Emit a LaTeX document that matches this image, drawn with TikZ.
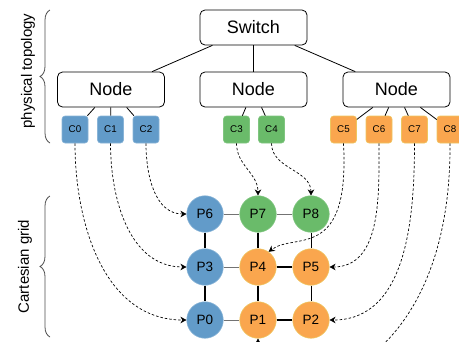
\documentclass[tikz,border=0pt]{standalone}
\usepackage{fontspec}
\setmainfont{Liberation Sans}
\usetikzlibrary{arrows.meta,decorations.pathreplacing}
\definecolor{cblue}{RGB}{98,155,201}
\definecolor{cgreen}{RGB}{106,187,106}
\definecolor{corange}{RGB}{250,166,78}
\definecolor{corangeline}{RGB}{238,198,96}
\begin{document}
\begin{tikzpicture}[x=1pt,y=-1pt,
  box/.style={draw,rounded corners=5pt,minimum width=107pt,minimum height=35pt,
    line width=0.8pt,font=\fontsize{18}{18}\selectfont},
  chip/.style={rounded corners=3pt,minimum width=26pt,minimum height=27pt,inner sep=0pt,
    line width=0.6pt,font=\fontsize{9.8}{9.8}\selectfont},
  proc/.style={circle,minimum size=36.5pt,inner sep=0pt,line width=0.6pt,
    font=\fontsize{13.5}{13.5}\selectfont},
  blueish/.style={fill=cblue,draw=cblue!75!white},
  greenish/.style={fill=cgreen,draw=cgreen!85!white},
  orangeish/.style={fill=corange,draw=corangeline},
  link/.style={line width=0.8pt},
  soft/.style={draw=black!55,line width=0.9pt},
  hard/.style={line width=1.6pt},
  mid/.style={line width=1pt},
  map/.style={dash pattern=on 2.5pt off 2pt,line width=0.7pt,-{Stealth[length=6pt,width=6.5pt]}},
  brace/.style={decorate,decoration={brace,amplitude=10pt},draw=black!70,line width=0.8pt},
  side/.style={rotate=90,font=\fontsize{15}{15}\selectfont}]
  \useasboundingbox (0,0) rectangle (459,341);
  \clip (0,0) rectangle (459,341);

  \node[box] (sw) at (253.5,27.5) {Switch};
  \node[box] (nodeL) at (111,89.5) {Node};
  \node[box] (nodeM) at (253.5,89.5) {Node};
  \node[box] (nodeR) at (396.5,89.5) {Node};
  \foreach \n in {nodeL,nodeM,nodeR}
    \draw[link] (sw) -- (\n);

  \foreach \name/\x/\col in {C0/75/blueish,C1/110.5/blueish,C2/146/blueish,
      C3/236.5/greenish,C4/271.5/greenish,
      C5/343.5/orangeish,C6/379/orangeish,C7/414.5/orangeish,C8/450/orangeish}
    \node[chip,\col] (\name) at (\x,129.5) {\name};
  \foreach \c in {C0,C1,C2}
    \draw[link] (nodeL) -- (\c);
  \foreach \c in {C3,C4}
    \draw[link] (nodeM) -- (\c);
  \foreach \c in {C5,C6,C7,C8}
    \draw[link] (nodeR) -- (\c);

  \foreach \name/\x/\y/\col in {P6/205/214/blueish,P7/258/214/greenish,P8/311/214/greenish,
      P3/205/267/blueish,P4/258/267/orangeish,P5/311/267/orangeish,
      P0/205/320/blueish,P1/258/320/orangeish,P2/311/320/orangeish}
    \node[proc,\col] (\name) at (\x,\y) {\name};
  \draw[soft] (P6) -- (P7);
  \draw[soft] (P7) -- (P8);
  \draw[soft] (P3) -- (P4);
  \draw[soft] (P0) -- (P1);
  \draw[hard] (P4) -- (P5);
  \draw[hard] (P1) -- (P2);
  \draw[hard] (P6) -- (P3);
  \draw[hard] (P3) -- (P0);
  \draw[hard] (P7) -- (P4);
  \draw[hard] (P4) -- (P1);
  \draw[mid] (P8) -- (P5);
  \draw[mid] (P5) -- (P2);

  \draw[map] (C0) to[out=-90,in=180] (P0);
  \draw[map] (C1) to[out=-90,in=180] (P3);
  \draw[map] (C2) to[out=-90,in=180] (P6);
  \draw[map] (C3) to[out=-90,in=90] (P7);
  \draw[map] (C4) to[out=-90,in=90] (P8);
  \draw[map] (C5.south) .. controls (350,262) and (295,232) .. (P4.55);
  \draw[map] (C6) to[out=-90,in=0] (P5);
  \draw[map] (C7) to[out=-90,in=0] (P2);
  \draw[map] (C8.south) .. controls (452,395) and (258,420) .. (P1.south);

  \draw[brace] (50,143) -- (50,10);
  \draw[brace] (50,337) -- (50,196);
  \node[side] (phys) at (28,71) {physical topology};
  \node[side] (cart) at (25,266.5) {Cartesian grid};
\end{tikzpicture}
\end{document}
